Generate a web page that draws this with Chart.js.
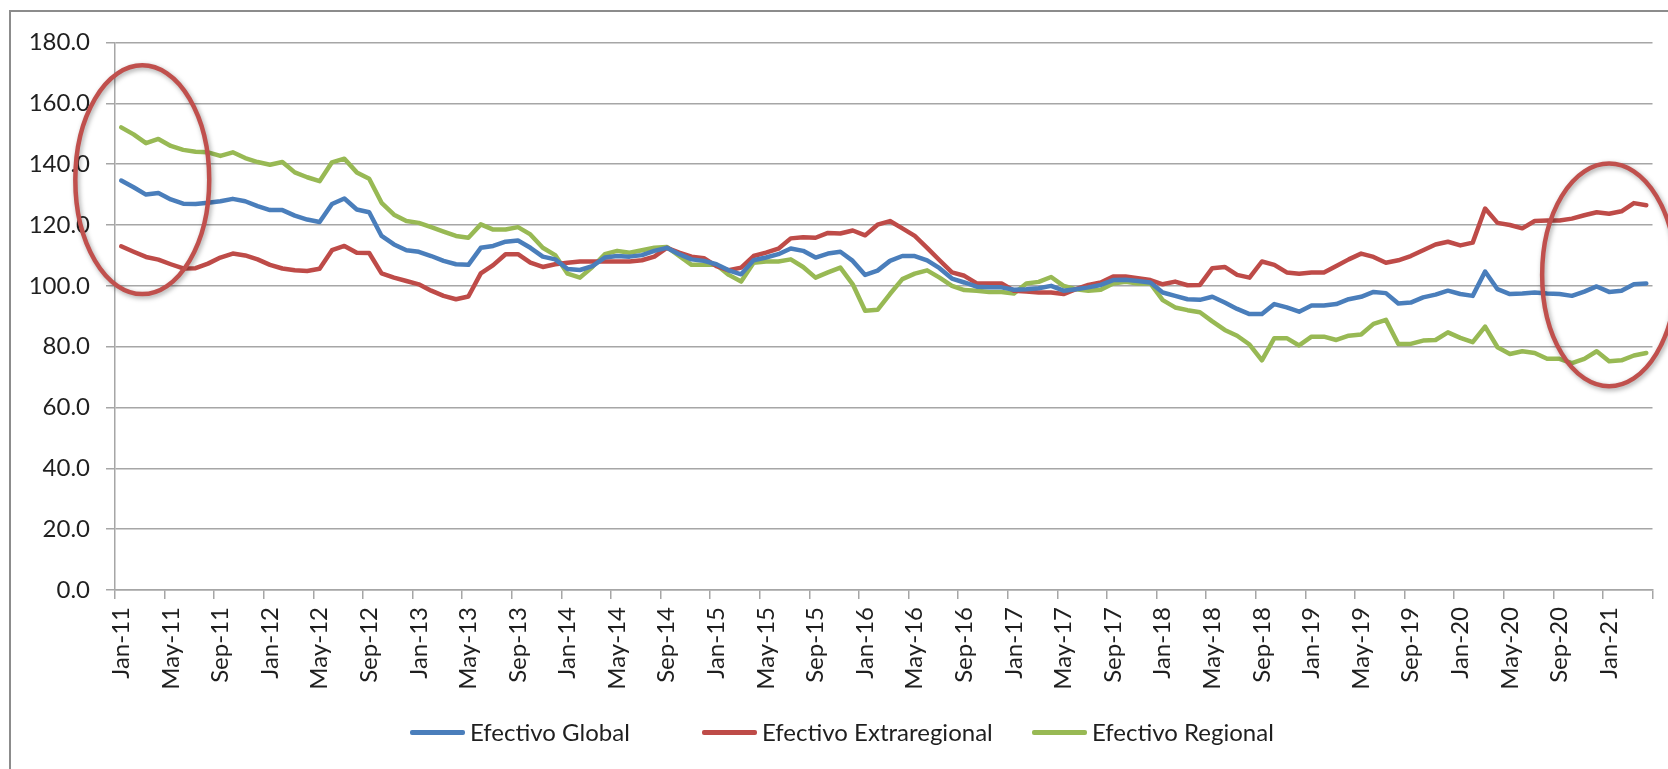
<!DOCTYPE html>
<html>
<head>
<meta charset="utf-8">
<script src="https://cdn.jsdelivr.net/npm/chart.js@4.4.1/dist/chart.umd.min.js"></script>
<style>
  html, body { margin: 0; padding: 0; background: #fff; overflow: hidden; }
  #wrap { position: relative; width: 1668px; height: 769px; overflow: hidden; }
  #frame { position: absolute; left: 9px; top: 10px; width: 1720px; height: 820px; border: 2px solid #8c8c8c; }
  #chartCanvas { position: absolute; left: 0; top: 0; }
  #legend { position: absolute; left: 0; top: 717px; width: 1668px; height: 32px;
            font-family: Lato, sans-serif; font-size: 24px; color: #1f1f1f; line-height: 30px; }
  .item { position: absolute; top: 0; display: flex; align-items: center; gap: 5px; white-space: nowrap; }
  .swatch { width: 55px; height: 5px; border-radius: 2px; }
</style>
</head>
<body>
<div id="wrap">
  <div id="frame"></div>
  <canvas id="chartCanvas" width="1668" height="769"></canvas>
  <div id="legend"></div>
</div>
<script>
// Months Jan-11 .. Apr-21
const labels = [
  'Jan-11','Feb-11','Mar-11','Apr-11','May-11','Jun-11','Jul-11','Aug-11','Sep-11','Oct-11','Nov-11','Dec-11',
  'Jan-12','Feb-12','Mar-12','Apr-12','May-12','Jun-12','Jul-12','Aug-12','Sep-12','Oct-12','Nov-12','Dec-12',
  'Jan-13','Feb-13','Mar-13','Apr-13','May-13','Jun-13','Jul-13','Aug-13','Sep-13','Oct-13','Nov-13','Dec-13',
  'Jan-14','Feb-14','Mar-14','Apr-14','May-14','Jun-14','Jul-14','Aug-14','Sep-14','Oct-14','Nov-14','Dec-14',
  'Jan-15','Feb-15','Mar-15','Apr-15','May-15','Jun-15','Jul-15','Aug-15','Sep-15','Oct-15','Nov-15','Dec-15',
  'Jan-16','Feb-16','Mar-16','Apr-16','May-16','Jun-16','Jul-16','Aug-16','Sep-16','Oct-16','Nov-16','Dec-16',
  'Jan-17','Feb-17','Mar-17','Apr-17','May-17','Jun-17','Jul-17','Aug-17','Sep-17','Oct-17','Nov-17','Dec-17',
  'Jan-18','Feb-18','Mar-18','Apr-18','May-18','Jun-18','Jul-18','Aug-18','Sep-18','Oct-18','Nov-18','Dec-18',
  'Jan-19','Feb-19','Mar-19','Apr-19','May-19','Jun-19','Jul-19','Aug-19','Sep-19','Oct-19','Nov-19','Dec-19',
  'Jan-20','Feb-20','Mar-20','Apr-20','May-20','Jun-20','Jul-20','Aug-20','Sep-20','Oct-20','Nov-20','Dec-20',
  'Jan-21','Feb-21','Mar-21','Apr-21'
];

const efectivoGlobal = [
  134.6, 132.4, 130.0, 130.5, 128.4, 127.0, 126.9, 127.3, 127.8, 128.6, 127.8, 126.2,
  124.9, 124.9, 123.1, 121.8, 121.0, 126.9, 128.7, 125.1, 124.2, 116.4, 113.6, 111.7,
  111.2, 109.8, 108.2, 107.1, 106.9, 112.5, 113.1, 114.5, 114.9, 112.5, 109.6, 108.7,
  105.5, 105.2, 106.5, 109.3, 109.8, 109.6, 110.1, 111.5, 112.5, 110.4, 108.7, 108.2,
  107.1, 105.1, 103.8, 108.4, 109.3, 110.4, 112.3, 111.5, 109.3, 110.6, 111.2, 108.2,
  103.6, 105.0, 108.2, 109.8, 109.8, 108.4, 105.8, 102.4, 101.1, 99.7, 99.5, 99.5,
  98.7, 98.9, 99.2, 100.0, 98.4, 98.9, 99.5, 100.3, 101.9, 102.0, 101.6, 101.1,
  97.8, 96.7, 95.6, 95.4, 96.4, 94.5, 92.4, 90.7, 90.7, 94.0, 92.9, 91.5,
  93.5, 93.5, 94.0, 95.6, 96.4, 98.0, 97.6, 94.2, 94.5, 96.2, 97.1, 98.4,
  97.3, 96.7, 104.7, 98.9, 97.3, 97.5, 97.8, 97.5, 97.3, 96.7, 98.1, 99.8,
  98.0, 98.4, 100.5, 100.8
];

const efectivoExtraregional = [
  113.0, 111.2, 109.5, 108.6, 107.1, 105.7, 105.8, 107.3, 109.3, 110.6, 110.0, 108.7,
  106.9, 105.7, 105.1, 104.9, 105.6, 111.7, 113.1, 110.9, 110.8, 104.1, 102.7, 101.6,
  100.5, 98.4, 96.7, 95.6, 96.5, 104.1, 106.8, 110.4, 110.4, 107.6, 106.2, 107.1,
  107.6, 108.0, 108.0, 108.0, 108.0, 108.0, 108.4, 109.6, 112.5, 110.9, 109.6, 109.1,
  106.5, 105.1, 106.0, 109.8, 110.9, 112.2, 115.6, 116.0, 115.8, 117.4, 117.2, 118.2,
  116.6, 120.1, 121.3, 118.9, 116.4, 112.5, 108.4, 104.4, 103.3, 100.8, 100.8, 100.8,
  98.4, 98.1, 97.8, 97.8, 97.3, 98.9, 100.3, 101.1, 103.1, 103.1, 102.5, 101.9,
  100.5, 101.4, 100.2, 100.3, 105.8, 106.2, 103.6, 102.7, 108.0, 106.9, 104.4, 104.0,
  104.4, 104.4, 106.5, 108.7, 110.6, 109.5, 107.6, 108.4, 109.8, 111.7, 113.6, 114.5,
  113.3, 114.2, 125.4, 120.7, 120.0, 118.9, 121.3, 121.5, 121.5, 122.1, 123.2, 124.2,
  123.7, 124.5, 127.2, 126.5
];

const efectivoRegional = [
  152.1, 149.8, 146.9, 148.3, 146.0, 144.7, 144.1, 143.9, 142.7, 143.9, 142.0, 140.7,
  139.8, 140.7, 137.3, 135.7, 134.4, 140.6, 141.8, 137.3, 135.2, 127.3, 123.4, 121.3,
  120.7, 119.3, 117.8, 116.4, 115.8, 120.2, 118.5, 118.5, 119.3, 116.9, 112.5, 110.1,
  104.0, 102.7, 106.2, 110.4, 111.5, 110.9, 111.7, 112.5, 112.8, 109.8, 106.9, 106.9,
  106.9, 103.6, 101.4, 107.6, 108.0, 108.0, 108.7, 106.2, 102.7, 104.4, 106.0, 100.5,
  91.8, 92.1, 97.3, 102.2, 104.0, 105.1, 102.7, 100.0, 98.6, 98.4, 98.0, 98.0,
  97.5, 100.8, 101.3, 102.9, 100.0, 98.9, 98.4, 98.7, 100.8, 101.3, 100.8, 100.8,
  95.3, 92.9, 92.0, 91.3, 88.3, 85.5, 83.6, 80.7, 75.5, 82.8, 82.8, 80.4,
  83.3, 83.3, 82.2, 83.6, 84.0, 87.5, 88.8, 80.9, 80.9, 82.0, 82.2, 84.7,
  82.9, 81.5, 86.6, 79.8, 77.6, 78.5, 77.9, 76.0, 76.0, 74.6, 76.0, 78.5,
  75.2, 75.5, 77.1, 77.9
];

const seriesNames = ['Efectivo Global', 'Efectivo Extraregional', 'Efectivo Regional'];
const seriesColors = ['#4a7ebb', '#be4b48', '#98b954'];

// Highlight ellipses in data units (category index, value)
const highlights = [
  { cx: 1.7, cy: 134.9, rx: 5.4, ry: 37.6 },
  { cx: 120.0, cy: 103.6, rx: 5.4, ry: 36.6 }
];

const gridColor = '#a6a6a6';
const textColor = '#1f1f1f';
const tickFont = { family: 'Lato', size: 24 };

// Draws the red ellipses on top of the plot
const ellipsePlugin = {
  id: 'ellipses',
  afterDraw(chart) {
    const xs = chart.scales.x, ys = chart.scales.y;
    const ctx = chart.ctx;
    const pxCat = xs.getPixelForValue(1) - xs.getPixelForValue(0);
    const pxVal = ys.getPixelForValue(0) - ys.getPixelForValue(1);
    ctx.save();
    ctx.strokeStyle = '#c0504d';
    ctx.lineWidth = 4.5;
    ctx.shadowColor = 'rgba(0,0,0,0.35)';
    ctx.shadowBlur = 5;
    ctx.shadowOffsetX = 1.5;
    ctx.shadowOffsetY = 2;
    highlights.forEach(h => {
      ctx.beginPath();
      ctx.ellipse(xs.getPixelForValue(h.cx), ys.getPixelForValue(h.cy),
                  h.rx * pxCat, h.ry * pxVal, 0, 0, Math.PI * 2);
      ctx.stroke();
    });
    ctx.restore();
  }
};

const seriesData = [efectivoGlobal, efectivoExtraregional, efectivoRegional];

const canvas = document.getElementById('chartCanvas');
const myChart = new Chart(canvas.getContext('2d'), {
  type: 'line',
  data: {
    labels: labels,
    datasets: seriesData.map((d, i) => ({
      label: seriesNames[i],
      data: d,
      borderColor: seriesColors[i],
      backgroundColor: seriesColors[i],
      borderWidth: 4.5,
      pointRadius: 0,
      tension: 0,
      borderJoinStyle: 'round',
      borderCapStyle: 'round',
      fill: false
    }))
  },
  options: {
    responsive: false,
    animation: false,
    layout: { padding: { left: 0, top: 42.5, right: 15.5, bottom: 59 } },
    plugins: {
      legend: { display: false },
      tooltip: { enabled: false }
    },
    scales: {
      x: {
        offset: true,
        afterFit: (scale) => {
          scale.height = 120;
          scale.paddingLeft = 0;
          scale.paddingRight = 0;
        },
        grid: {
          offset: true,
          drawOnChartArea: false,
          drawTicks: true,
          tickLength: 9,
          lineWidth: 1.5,
          color: ctx => (ctx.index === undefined || ctx.index % 4 === 0) ? gridColor : 'rgba(0,0,0,0)'
        },
        border: { display: true, color: gridColor, width: 1.5 },
        ticks: {
          autoSkip: false,
          maxRotation: 90,
          minRotation: 90,
          padding: 8,
          color: textColor,
          font: tickFont,
          callback: (val, idx) => idx % 4 === 0 ? labels[idx] : ''
        }
      },
      y: {
        min: 0,
        max: 180,
        afterFit: (scale) => { scale.width = 115; },
        grid: { color: gridColor, lineWidth: 1.5, tickLength: 9 },
        border: { display: true, color: gridColor, width: 1.5 },
        ticks: {
          stepSize: 20,
          padding: 16,
          color: textColor,
          font: tickFont,
          callback: v => v.toFixed(1)
        }
      }
    }
  },
  plugins: [ellipsePlugin]
});

// Legend below the plot, built from the series
const legendLeft = [410, 702, 1032];
const legend = document.getElementById('legend');
seriesNames.forEach((name, i) => {
  const item = document.createElement('div');
  item.className = 'item';
  item.style.left = legendLeft[i] + 'px';
  item.innerHTML = `<span class="swatch" style="background:${seriesColors[i]}"></span><span>${name}</span>`;
  legend.appendChild(item);
});
</script>
</body>
</html>
